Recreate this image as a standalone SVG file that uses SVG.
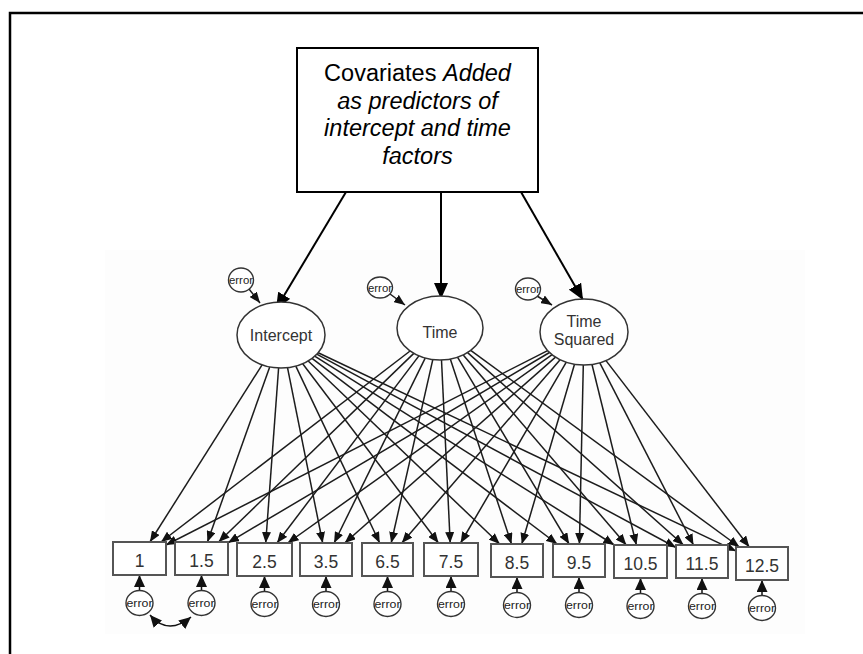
<svg xmlns="http://www.w3.org/2000/svg" width="863" height="654" viewBox="0 0 863 654">
<defs>
<marker id="ah" markerUnits="userSpaceOnUse" viewBox="0 0 11 9" markerWidth="11" markerHeight="9" refX="11" refY="4.5" orient="auto"><path d="M0,0 L11,4.5 L0,9 z" fill="#111"/></marker>
<marker id="big" markerUnits="userSpaceOnUse" viewBox="0 0 16 14" markerWidth="16" markerHeight="14" refX="16" refY="7" orient="auto"><path d="M0,0 L16,7 L0,14 z" fill="#000"/></marker>
<marker id="eh" markerUnits="userSpaceOnUse" viewBox="0 0 12 11" markerWidth="12" markerHeight="11" refX="12" refY="5.5" orient="auto"><path d="M0,0 L12,5.5 L0,11 z" fill="#111"/></marker>
<marker id="ehs" markerUnits="userSpaceOnUse" viewBox="0 0 12 11" markerWidth="12" markerHeight="11" refX="0" refY="5.5" orient="auto"><path d="M12,0 L0,5.5 L12,11 z" fill="#111"/></marker>
</defs>
<style>
text{font-family:"Liberation Sans",Arial,sans-serif}
.c{stroke:#1c1c1c;stroke-width:1.5;fill:none;marker-end:url(#ah)}
.cv{stroke:#000;stroke-width:2;fill:none;marker-end:url(#big)}
.ea{stroke:#111;stroke-width:1.5;fill:none;marker-end:url(#eh)}
.lat{fill:#fff;stroke:#333;stroke-width:1.5}
.obs{fill:#fff;stroke:#555;stroke-width:2}
.err{fill:#fff;stroke:#333;stroke-width:1.4}
.lt{font-size:16px;fill:#333;text-anchor:middle}
.ot{font-size:17.5px;fill:#333;text-anchor:middle}
.et{font-size:11px;fill:#222;text-anchor:middle}
.cov{font-size:23.5px;fill:#000;text-anchor:middle}
</style>
<rect x="0" y="0" width="863" height="654" fill="#fff"/>
<rect x="105" y="250" width="700" height="384" fill="#fdfdfd"/>
<g id="frame"><path d="M10,654 L10,13 L863,13" fill="none" stroke="#000" stroke-width="2.5"/></g>

<g id="connectors">
<line class="cv" x1="346" y1="192" x2="276" y2="309"/>
<line class="cv" x1="441" y1="192" x2="441" y2="299"/>
<line class="cv" x1="521" y1="192" x2="583" y2="300"/>
<line class="c" x1="249" y1="289" x2="260" y2="303"/>
<line class="c" x1="390" y1="294" x2="405" y2="305"/>
<line class="c" x1="537" y1="296" x2="552" y2="305"/>
<line class="c" x1="262.1" y1="364.8" x2="149.9" y2="542"/>
<line class="c" x1="269.7" y1="366.9" x2="207.4" y2="542"/>
<line class="c" x1="278.6" y1="368.0" x2="265.7" y2="543"/>
<line class="c" x1="287.5" y1="367.6" x2="322.7" y2="543"/>
<line class="c" x1="295.8" y1="366.1" x2="379.7" y2="543"/>
<line class="c" x1="302.7" y1="363.7" x2="438.5" y2="543"/>
<line class="c" x1="308.2" y1="361.0" x2="499.7" y2="544"/>
<line class="c" x1="312.0" y1="358.4" x2="557.2" y2="544"/>
<line class="c" x1="314.7" y1="356.2" x2="614.3" y2="545"/>
<line class="c" x1="316.7" y1="354.2" x2="676" y2="547.5"/>
<line class="c" x1="318.2" y1="352.7" x2="736" y2="551.1"/>
<line class="c" x1="410.1" y1="351.0" x2="161.0" y2="542"/>
<line class="c" x1="413.8" y1="353.4" x2="218.6" y2="542"/>
<line class="c" x1="418.9" y1="355.9" x2="277.0" y2="543"/>
<line class="c" x1="425.2" y1="358.1" x2="334.1" y2="543"/>
<line class="c" x1="432.8" y1="359.6" x2="391.2" y2="543"/>
<line class="c" x1="441.5" y1="360.0" x2="450.2" y2="543"/>
<line class="c" x1="450.3" y1="359.1" x2="511.5" y2="544"/>
<line class="c" x1="457.5" y1="357.2" x2="569.1" y2="544"/>
<line class="c" x1="463.2" y1="355.0" x2="626.3" y2="545"/>
<line class="c" x1="467.6" y1="352.6" x2="683.5" y2="545"/>
<line class="c" x1="470.7" y1="350.4" x2="739.4" y2="547"/>
<line class="c" x1="547.6" y1="350.6" x2="166" y2="545.0"/>
<line class="c" x1="549.5" y1="352.5" x2="228" y2="542.8"/>
<line class="c" x1="552.1" y1="354.7" x2="287.7" y2="543"/>
<line class="c" x1="555.5" y1="357.1" x2="344.7" y2="543"/>
<line class="c" x1="560.1" y1="359.7" x2="401.8" y2="543"/>
<line class="c" x1="566.3" y1="362.2" x2="460.6" y2="543"/>
<line class="c" x1="574.5" y1="364.2" x2="521.8" y2="544"/>
<line class="c" x1="583.3" y1="365.0" x2="579.4" y2="544"/>
<line class="c" x1="592.0" y1="364.5" x2="636.4" y2="545"/>
<line class="c" x1="599.8" y1="362.8" x2="693.5" y2="545"/>
<line class="c" x1="606.0" y1="360.6" x2="749.3" y2="547"/>
<line class="ea" x1="139.5" y1="591" x2="139.5" y2="575"/>
<line class="ea" x1="201.5" y1="591" x2="201.5" y2="575"/>
<line class="ea" x1="264.5" y1="592" x2="264.5" y2="576"/>
<line class="ea" x1="326" y1="592" x2="326" y2="576"/>
<line class="ea" x1="387.5" y1="592" x2="387.5" y2="576"/>
<line class="ea" x1="451" y1="592" x2="451" y2="576"/>
<line class="ea" x1="517" y1="593" x2="517" y2="577"/>
<line class="ea" x1="579" y1="593" x2="579" y2="577"/>
<line class="ea" x1="640.5" y1="594" x2="640.5" y2="578"/>
<line class="ea" x1="702" y1="594" x2="702" y2="578"/>
<line class="ea" x1="762" y1="596" x2="762" y2="580"/>
<path d="M150,615 Q168,636 191,617" fill="none" stroke="#111" stroke-width="1.5" marker-start="url(#ehs)" marker-end="url(#eh)"/>
</g>

<g id="covariates"><rect x="297" y="48" width="241" height="144" fill="#fff" stroke="#000" stroke-width="2"/>
<text class="cov" x="417.5" y="81">Covariates <tspan font-style="italic">Added</tspan></text>
<text class="cov" x="417.5" y="108.5" font-style="italic">as predictors of</text>
<text class="cov" x="417.5" y="136" font-style="italic">intercept and time</text>
<text class="cov" x="417.5" y="163.5" font-style="italic">factors</text></g>

<g id="intercept"><ellipse class="lat" cx="281" cy="335" rx="44" ry="33"/><text class="lt" x="281" y="341">Intercept</text></g>
<g id="time"><ellipse class="lat" cx="440" cy="328" rx="43" ry="32"/><text class="lt" x="440" y="338">Time</text></g>
<g id="timesq"><ellipse class="lat" cx="584" cy="332" rx="44" ry="33"/><text class="lt" x="584" y="327">Time</text><text class="lt" x="584" y="345">Squared</text></g>

<g id="e_int"><ellipse class="err" cx="241" cy="280" rx="12.5" ry="12"/><text class="et" x="241" y="284" textLength="24" lengthAdjust="spacingAndGlyphs">error</text></g>
<g id="e_time"><ellipse class="err" cx="380" cy="287.5" rx="12.5" ry="10.5"/><text class="et" x="380" y="291.5" textLength="24" lengthAdjust="spacingAndGlyphs">error</text></g>
<g id="e_tsq"><ellipse class="err" cx="528" cy="289" rx="12.5" ry="11"/><text class="et" x="528" y="293" textLength="24" lengthAdjust="spacingAndGlyphs">error</text></g>

<g id="o1"><rect class="obs" x="113" y="542" width="53" height="33"/><text class="ot" x="139.5" y="567">1</text></g>
<g id="o1_5"><rect class="obs" x="175" y="542" width="53" height="33"/><text class="ot" x="201.5" y="567">1.5</text></g>
<g id="o2_5"><rect class="obs" x="237" y="543" width="55" height="33"/><text class="ot" x="264.5" y="568">2.5</text></g>
<g id="o3_5"><rect class="obs" x="300" y="543" width="52" height="33"/><text class="ot" x="326" y="568">3.5</text></g>
<g id="o6_5"><rect class="obs" x="362" y="543" width="51" height="33"/><text class="ot" x="387.5" y="568">6.5</text></g>
<g id="o7_5"><rect class="obs" x="424" y="543" width="54" height="33"/><text class="ot" x="451" y="568">7.5</text></g>
<g id="o8_5"><rect class="obs" x="491" y="544" width="52" height="33"/><text class="ot" x="517" y="569">8.5</text></g>
<g id="o9_5"><rect class="obs" x="553" y="544" width="52" height="33"/><text class="ot" x="579" y="569">9.5</text></g>
<g id="o10_5"><rect class="obs" x="614" y="545" width="53" height="33"/><text class="ot" x="640.5" y="570">10.5</text></g>
<g id="o11_5"><rect class="obs" x="676" y="545" width="52" height="33"/><text class="ot" x="702" y="570">11.5</text></g>
<g id="o12_5"><rect class="obs" x="736" y="547" width="52" height="33"/><text class="ot" x="762" y="572">12.5</text></g>

<g id="e1"><ellipse class="err" cx="139.5" cy="603" rx="13.5" ry="12.5"/><text class="et" x="139.5" y="607" textLength="26" lengthAdjust="spacingAndGlyphs">error</text></g>
<g id="e2"><ellipse class="err" cx="201.5" cy="603" rx="13.5" ry="12.5"/><text class="et" x="201.5" y="607" textLength="26" lengthAdjust="spacingAndGlyphs">error</text></g>
<g id="e3"><ellipse class="err" cx="264.5" cy="604" rx="13.5" ry="12.5"/><text class="et" x="264.5" y="608" textLength="26" lengthAdjust="spacingAndGlyphs">error</text></g>
<g id="e4"><ellipse class="err" cx="326" cy="604" rx="13.5" ry="12.5"/><text class="et" x="326" y="608" textLength="26" lengthAdjust="spacingAndGlyphs">error</text></g>
<g id="e5"><ellipse class="err" cx="387.5" cy="604" rx="13.5" ry="12.5"/><text class="et" x="387.5" y="608" textLength="26" lengthAdjust="spacingAndGlyphs">error</text></g>
<g id="e6"><ellipse class="err" cx="451" cy="604" rx="13.5" ry="12.5"/><text class="et" x="451" y="608" textLength="26" lengthAdjust="spacingAndGlyphs">error</text></g>
<g id="e7"><ellipse class="err" cx="517" cy="605" rx="13.5" ry="12.5"/><text class="et" x="517" y="609" textLength="26" lengthAdjust="spacingAndGlyphs">error</text></g>
<g id="e8"><ellipse class="err" cx="579" cy="605" rx="13.5" ry="12.5"/><text class="et" x="579" y="609" textLength="26" lengthAdjust="spacingAndGlyphs">error</text></g>
<g id="e9"><ellipse class="err" cx="640.5" cy="606" rx="13.5" ry="12.5"/><text class="et" x="640.5" y="610" textLength="26" lengthAdjust="spacingAndGlyphs">error</text></g>
<g id="e10"><ellipse class="err" cx="702" cy="606" rx="13.5" ry="12.5"/><text class="et" x="702" y="610" textLength="26" lengthAdjust="spacingAndGlyphs">error</text></g>
<g id="e11"><ellipse class="err" cx="762" cy="608" rx="13.5" ry="12.5"/><text class="et" x="762" y="612" textLength="26" lengthAdjust="spacingAndGlyphs">error</text></g>
</svg>
